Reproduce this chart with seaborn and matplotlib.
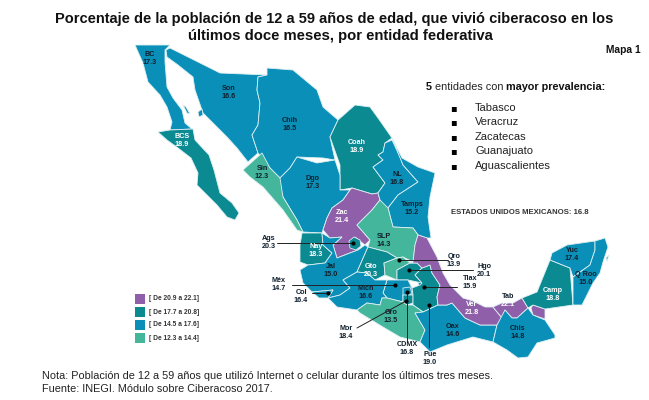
# Mapa de ciberacoso por entidad federativa
import numpy as np
import pandas as pd
import seaborn as sns
import matplotlib
matplotlib.use("Agg")
import matplotlib.pyplot as plt

sns.set_theme(style="white")
plt.rcParams['font.family'] = ['Liberation Sans', 'DejaVu Sans']

# Data
states = ["BC", "BCS", "Son", "Chih", "Coah", "Sin", "Dgo", "NL", "Tamps", "Zac", "SLP",
          "Ags", "Nay", "Jal", "Gto", "Qro", "Hgo", "Tlax", "Méx", "Col", "Mich", "Gro",
          "Mor", "CDMX", "Pue", "Oax", "Ver", "Tab", "Chis", "Camp", "Yuc", "Q Roo"]
values = [17.3, 18.9, 16.6, 16.5, 18.9, 12.3, 17.3, 16.8, 15.2, 21.4, 14.3,
          20.3, 18.3, 15.0, 20.3, 13.9, 20.1, 15.9, 14.7, 16.4, 16.6, 13.5,
          18.4, 16.8, 19.0, 14.6, 21.8, 22.1, 14.8, 18.8, 17.4, 15.0]
bin_edges = [12.2, 14.45, 17.65, 20.85, 22.2]
bin_labels = ["[ De 12.3 a 14.4]", "[ De 14.5 a 17.6]", "[ De 17.7 a 20.8]", "[ De 20.9 a 22.1]"]
top_states = ["Tabasco", "Veracruz", "Zacatecas", "Guanajuato", "Aguascalientes"]

# Geography, traced outlines in map units
shapes = {
    "BC": [(135,45),(170,45),(165,50),(165,62),(167,87),(173,98),(182,110),(185,123),(192,129),(170,130),(172,122),(167,107),(160,95),(148,82),(143,63)],
    "BCS": [(158,132),(170,130),(193,129),(195,140),(209,155),(214,170),(220,193),(232,203),(239,213),(235,220),(227,217),(217,205),(197,185),(198,173),(191,158),(178,148),(167,140)],
    "Son": [(166,50),(170,48),(220,73),(267,75),(258,77),(257,90),(260,103),(258,125),(252,135),(257,150),(258,153),(248,162),(237,148),(227,137),(203,113),(195,90),(193,77),(178,65),(167,57)],
    "Chih": [(267,75),(267,68),(293,70),(317,90),(323,107),(338,120),(330,137),(335,160),(323,158),(297,157),(290,168),(280,178),(270,168),(258,153),(252,135),(258,125),(260,103),(257,90),(258,77)],
    "Coah": [(338,120),(355,105),(370,107),(378,118),(392,138),(385,143),(383,152),(378,155),(383,160),(373,167),(385,183),(378,193),(372,194),(352,188),(340,190),(340,165),(330,137)],
    "Dgo": [(278,180),(290,168),(297,157),(317,163),(335,160),(340,175),(340,190),(350,190),(343,200),(332,208),(327,218),(323,230),(322,233),(303,232),(297,220),(283,197)],
    "Sin": [(243,170),(262,153),(270,168),(280,178),(283,197),(297,220),(303,232),(297,230),(283,210),(263,187),(250,177)],
    "Zac": [(350,190),(352,188),(372,194),(378,193),(380,200),(372,210),(357,225),(370,240),(365,245),(355,237),(358,250),(350,253),(337,258),(333,245),(342,237),(330,238),(323,230),(327,218),(332,208),(343,200)],
    "NL": [(385,143),(392,140),(400,157),(403,165),(418,182),(398,195),(388,208),(393,227),(380,200),(378,193),(385,183),(373,167),(383,160),(378,155),(383,152)],
    "Tamps": [(392,138),(402,158),(418,167),(435,173),(430,197),(428,217),(431,238),(427,238),(418,235),(413,228),(393,227),(388,208),(398,195),(418,182),(403,165)],
    "SLP": [(357,225),(372,210),(380,200),(388,208),(393,227),(413,228),(418,235),(415,245),(413,262),(403,257),(397,258),(387,252),(368,247),(370,240)],
    "Nay": [(302,233),(322,233),(323,245),(332,253),(325,263),(308,265),(300,262),(300,245)],
    "Jal": [(300,270),(308,265),(325,263),(332,253),(323,245),(322,233),(330,238),(342,237),(333,245),(337,258),(350,253),(358,250),(365,245),(368,247),(357,272),(343,280),(350,288),(340,295),(328,298),(333,290),(312,292),(303,283)],
    "Ags": [(349,241),(354,237),(360,240),(361,246),(356,250),(350,248)],
    "Gto": [(357,272),(368,247),(387,252),(397,258),(384,263),(385,275),(375,280),(367,273)],
    "Qro": [(384,263),(397,258),(403,257),(410,263),(397,270),(397,280),(385,275)],
    "Hgo": [(397,270),(410,263),(417,263),(422,268),(415,275),(422,283),(408,280),(397,280)],
    "Méx": [(387,280),(397,280),(408,280),(412,288),(413,295),(403,295),(403,302),(387,298),(383,293)],
    "CDMX": [(403,288),(410,287),(412,293),(407,297),(403,295)],
    "Mor": [(403,295),(413,295),(413,303),(407,305),(403,302)],
    "Tlax": [(418,283),(424,281),(431,285),(428,291),(420,290)],
    "Pue": [(422,268),(430,265),(432,273),(440,285),(437,297),(438,305),(423,312),(413,305),(413,295),(412,288),(420,285),(422,283),(415,275)],
    "Col": [(312,292),(333,290),(328,298),(319,298)],
    "Mich": [(343,280),(357,272),(367,273),(375,280),(387,280),(383,293),(387,298),(382,298),(380,305),(367,303),(357,310),(337,307),(328,298),(340,295),(350,288)],
    "Gro": [(357,310),(367,303),(380,305),(382,298),(387,298),(403,302),(407,305),(413,305),(423,312),(415,313),(425,330),(420,342),(400,337),(383,327),(360,313)],
    "Oax": [(423,312),(438,305),(447,305),(452,303),(465,318),(480,325),(497,325),(493,342),(473,337),(447,345),(430,352),(420,342),(425,330),(415,313)],
    "Ver": [(418,235),(427,238),(437,257),(443,273),(450,285),(463,298),(473,301),(485,307),(493,307),(502,318),(497,325),(480,325),(465,318),(452,303),(447,305),(438,305),(437,297),(440,285),(432,273),(430,265),(422,268),(417,263),(410,263),(413,262),(415,245)],
    "Tab": [(493,307),(502,303),(513,303),(522,298),(528,308),(517,318),(512,318),(505,310),(502,318)],
    "Chis": [(497,325),(505,310),(512,318),(517,318),(528,308),(533,315),(545,320),(555,335),(555,338),(537,343),(528,357),(518,358),(507,350),(493,342)],
    "Camp": [(522,298),(537,292),(550,260),(570,268),(573,305),(545,309),(533,305),(528,308)],
    "Yuc": [(550,260),(552,253),(567,245),(595,241),(595,250),(590,265),(573,277),(570,268)],
    "Q Roo": [(595,241),(605,238),(608,247),(603,262),(600,273),(593,283),(582,305),(573,305),(573,277),(590,265),(595,250)],
}
extra_shapes = {
    "Tab": [[(533,305),(545,309),(545,319),(533,315),(531,308)]],
    "BC": [[(183,105),(186,107),(190,114),(187,113)]],
    "Son": [[(198,112),(202,109),(203,115),(199,117)]],
    "Q Roo": [[(606,258),(609,255),(607,261)]],
}

# Label centres and callouts
label_pos = {
    "BC": (150,59), "BCS": (182,140), "Son": (229,92), "Chih": (290,124), "Coah": (357,147),
    "Sin": (262,173), "Dgo": (313,182), "NL": (397,178), "Tamps": (412,208), "Zac": (342,216),
    "SLP": (384,240), "Ags": (269,243), "Nay": (316,250), "Jal": (331,270), "Gto": (371,270),
    "Qro": (454,261), "Hgo": (484,270), "Tlax": (470,283), "Méx": (279,285), "Col": (301,296),
    "Mich": (366,293), "Gro": (391,317), "Mor": (346,332), "CDMX": (407,348), "Pue": (430,358),
    "Oax": (453,330), "Ver": (472,308), "Tab": (508,300), "Chis": (518,332), "Camp": (553,294),
    "Yuc": (572,254), "Q Roo": (586,279),
}
callouts = {
    "Ags": ((277,243),(353,243)), "Col": ((312,293),(328,293)), "Méx": ((292,285),(395,285)),
    "Mor": ((357,328),(406,301)), "CDMX": ((407,342),(407,292)), "Pue": ((429,347),(429,305)),
    "Qro": ((448,260),(399,260)), "Hgo": ((473,270),(409,270)), "Tlax": ((457,287),(424,287)),
}
outside = ["Ags", "Qro", "Hgo", "Tlax", "Méx", "Col", "Mor", "CDMX", "Pue"]

palette = dict(zip(bin_labels, ["#43B69B", "#0A90B8", "#0B8A92", "#8F5FA9"]))
light_text = bin_labels[2:]

df = pd.DataFrame({"state": states, "value": values})
df["bin"] = pd.cut(df["value"], bins=bin_edges, labels=bin_labels).astype(str)
bin_of = dict(zip(df["state"], df["bin"]))

fig, ax = plt.subplots(figsize=(6.49, 4.0), dpi=100)
ax.set_position([0, 0, 1, 1])
ax.set_xlim(0, 649)
ax.set_ylim(400, 0)
ax.axis("off")

# Map
for state, poly in shapes.items():
    for part in [poly] + extra_shapes.get(state, []):
        xy = np.array(part)
        ax.fill(xy[:, 0], xy[:, 1], facecolor=palette[bin_of[state]],
                edgecolor="#DDEFF2", linewidth=0.6, zorder=2)

# Callouts
for state, (start, end) in callouts.items():
    ax.plot([start[0], end[0]], [start[1], end[1]], color="#222222", lw=0.7, zorder=3)
anchors = pd.DataFrame([{"x": callouts[s][1][0], "y": callouts[s][1][1]} for s in callouts])
sns.scatterplot(data=anchors, x="x", y="y", s=9, color="black", linewidth=0, ax=ax, zorder=4)

# State labels
for state, value in zip(states, values):
    x, y = label_pos[state]
    is_light = bin_of[state] in light_text and state not in outside
    color = "white" if is_light else "#10202E"
    name_color = "#10202E" if state == "Tab" else color
    ax.text(x, y - 4, state, ha="center", va="center", fontsize=5.2, fontweight="bold", color=name_color, zorder=5)
    ax.text(x, y + 4, f"{value:.1f}", ha="center", va="center", fontsize=5.2, fontweight="bold", color=color, zorder=5)

# Legend
legend_df = pd.DataFrame({"label": bin_labels[::-1], "x": [140] * 4, "y": [299, 312, 325, 338]})
sns.scatterplot(data=legend_df, x="x", y="y", hue="label", palette=palette, marker="s",
                s=48, linewidth=0, legend=False, ax=ax, zorder=3)
ax.set_xlabel("")
ax.set_ylabel("")
for _, row in legend_df.iterrows():
    ax.text(149, row["y"], row["label"], va="center", fontsize=4.8, fontweight="bold", color="#333333")

# Titles and texts
ax.text(334, 19, "Porcentaje de la población de 12 a 59 años de edad, que vivió ciberacoso en los",
        ha="center", va="center", fontsize=10.5, fontweight="bold", color="#111111")
ax.text(340, 36, "últimos doce meses, por entidad federativa",
        ha="center", va="center", fontsize=10.7, fontweight="bold", color="#111111")
ax.text(641, 50, "Mapa 1", ha="right", va="center", fontsize=7.4, fontweight="bold", color="#111111")

ax.text(426, 87, "5", va="center", fontsize=7.8, fontweight="bold", color="#111111")
ax.text(435, 87, "entidades con", va="center", fontsize=7.8, color="#222222")
ax.text(506, 87, "mayor prevalencia:", va="center", fontsize=7.8, fontweight="bold", color="#111111")

for i, name in enumerate(top_states):
    y = 108 + i * 14.4
    ax.text(453, y, "▪", ha="center", va="center", fontsize=7, color="black", family="DejaVu Sans")
    ax.text(475, y, name, va="center", fontsize=8, color="#222222")

ax.text(451, 212, "ESTADOS UNIDOS MEXICANOS: 16.8", va="center", fontsize=5.6, fontweight="bold", color="#333333")

ax.text(42, 376, "Nota: Población de 12 a 59 años que utilizó Internet o celular durante los últimos tres meses.",
        va="center", fontsize=7.85, color="#222222")
ax.text(42, 389, "Fuente: INEGI. Módulo sobre Ciberacoso 2017.", va="center", fontsize=7.85, color="#222222")

fig.savefig("out.png", dpi=100, facecolor="white")
plt.close()
